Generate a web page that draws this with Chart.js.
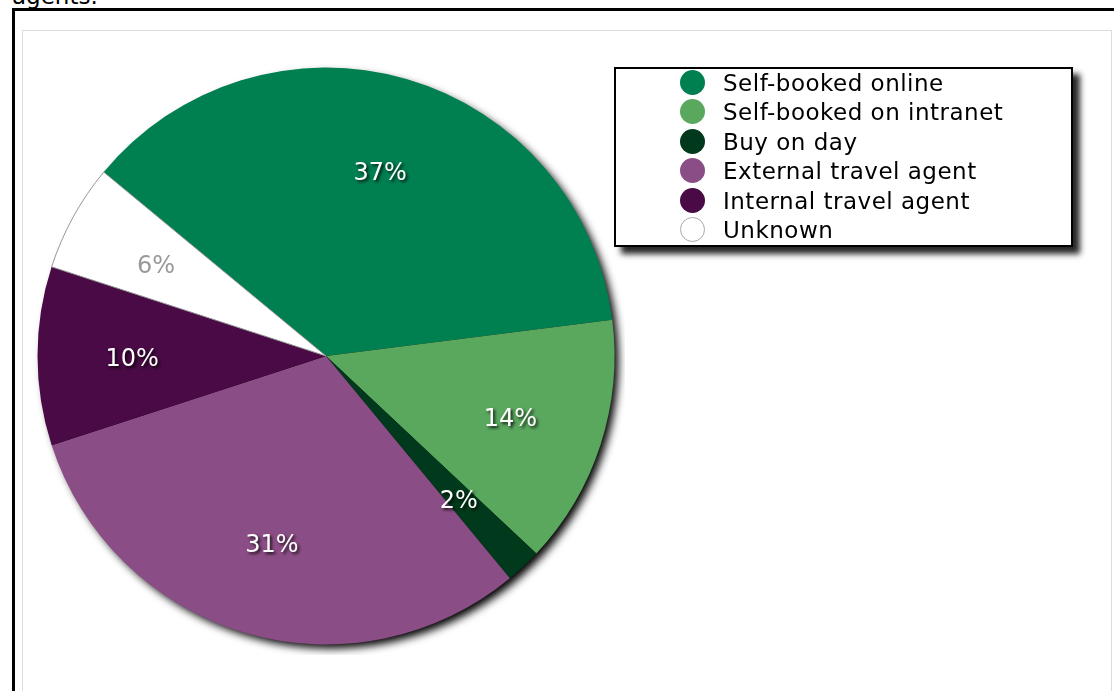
<!DOCTYPE html>
<html>
<head>
<title>Booking method</title>
<script src="https://cdn.jsdelivr.net/npm/chart.js"></script>
<style>
body{margin:0;background:#fff;overflow:hidden;width:1114px;height:691px;position:relative;font-family:"DejaVu Sans",Verdana,sans-serif;}
#caption{position:absolute;left:12px;top:-15px;font:23px "DejaVu Sans",Verdana,sans-serif;line-height:23px;color:#000;}
#outer{position:absolute;left:12px;top:8px;width:1200px;height:800px;border:3px solid #000;}
#panel{position:absolute;left:22px;top:30px;width:1088px;height:700px;border:1px solid #ddd;}
#wrap{position:absolute;left:27px;top:57px;width:598px;height:598px;}
#legend{position:absolute;left:614px;top:67px;width:455px;height:176px;border:2px solid #000;background:#fff;box-shadow:7px 7px 6px rgba(0,0,0,0.85);}
.item{height:29.4px;line-height:29.4px;padding-left:64px;font-size:23px;letter-spacing:0.5px;color:#000;white-space:nowrap;}
.dot{display:inline-block;width:25px;height:25px;border-radius:50%;vertical-align:middle;margin-right:18px;box-sizing:border-box;position:relative;top:-2px;}
</style>
</head>
<body>
<div id="caption">agents.</div>
<div id="outer"></div>
<div id="panel"></div>
<div id="wrap"><canvas id="pie"></canvas></div>
<div id="legend"></div>
<script>
var labels=["Self-booked online","Self-booked on intranet","Buy on day","External travel agent","Internal travel agent","Unknown"];
var shares=[37,14,2,31,10,6];
var colors=["#007f50","#5aa75e","#00391b","#8b4d85","#490a45","#ffffff"];
var labelColors=["#fff","#fff","#fff","#fff","#fff","#999"];

// legend as html
var lg=document.getElementById("legend");
for(var i=0;i<labels.length;i++){
var row=document.createElement("div");
row.className="item";
var d=document.createElement("span");
d.className="dot";
d.style.background=colors[i];
if(colors[i]=="#ffffff"){d.style.border="1px solid #aaa";}
row.appendChild(d);
row.appendChild(document.createTextNode(labels[i]));
lg.appendChild(row);
}

const pieShadow={
id:"pieShadow",
beforeDatasetsDraw(chart){
var arc=chart.getDatasetMeta(0).data[0];
var ctx=chart.ctx;
ctx.save();
ctx.shadowColor="rgba(0,0,0,1)";
ctx.shadowBlur=8;
ctx.shadowOffsetX=5;
ctx.shadowOffsetY=5;
ctx.beginPath();
ctx.arc(arc.x,arc.y,arc.outerRadius-1,0,Math.PI*2);
ctx.fillStyle="#000";
ctx.fill();
ctx.restore();
}
};

const pctLabels={
id:"pctLabels",
afterDatasetsDraw(chart){
var ctx=chart.ctx;
var meta=chart.getDatasetMeta(0);
ctx.save();
ctx.font='24px "DejaVu Sans", Verdana, sans-serif';
ctx.textAlign="center";
ctx.textBaseline="middle";
meta.data.forEach(function(a,i){
var mid=(a.startAngle+a.endAngle)/2;
var r=a.outerRadius*0.672;
var x=a.x+Math.cos(mid)*r;
var y=a.y+Math.sin(mid)*r+4;
if(labelColors[i]=="#fff"){
ctx.shadowColor="rgba(0,0,0,0.8)";
ctx.shadowBlur=3;
ctx.shadowOffsetX=2;
ctx.shadowOffsetY=2;
}else{
ctx.shadowColor="transparent";
}
ctx.fillStyle=labelColors[i];
ctx.fillText(shares[i]+"%",x,y);
});
ctx.restore();
}
};

const myChart=new Chart(document.getElementById("pie"),{
type:"pie",
data:{
labels:labels,
datasets:[{
data:shares,
backgroundColor:colors,
borderColor:["#007f50","#5aa75e","#00391b","#8b4d85","#490a45","#999"],
borderWidth:[0,0,0,0,0,1]
}]
},
options:{
responsive:true,
maintainAspectRatio:false,
animation:false,
rotation:-50.4,
layout:{padding:10},
plugins:{legend:{display:false},tooltip:{enabled:false}}
},
plugins:[pieShadow,pctLabels]
});
</script>
</body>
</html>
